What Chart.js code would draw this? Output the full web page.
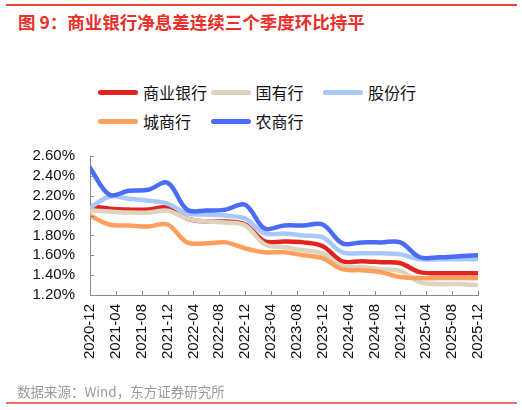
<!DOCTYPE html>
<html>
<head>
<meta charset="utf-8">
<script src="https://cdn.jsdelivr.net/npm/chart.js@4.4.1/dist/chart.umd.min.js"></script>
<style>
  html, body { margin: 0; padding: 0; background: #fff; }
  #wrap { position: relative; width: 522px; height: 410px; overflow: hidden;
          font-family: "Liberation Sans", "Noto Sans CJK SC", sans-serif; }
  #topline { position: absolute; left: 6px; top: 4px; width: 511px; height: 2px; background: #e9443c; }
  #botline { position: absolute; left: 6px; top: 402px; width: 511px; height: 2px; background: #f06a64; }
  #title { position: absolute; left: 18px; top: 9px; font-size: 17.5px; font-weight: bold; color: #e8302a;
           font-family: "Noto Sans CJK SC", "Liberation Sans", sans-serif; white-space: nowrap; }
  #source { position: absolute; left: 17px; top: 381px; font-size: 13.5px; color: #9a9a9a;
            font-family: "Noto Sans CJK SC", "Liberation Sans", sans-serif; white-space: nowrap; }
  #legend { position: absolute; left: 0; top: 0; width: 522px; height: 140px; }
  .lg { position: absolute; height: 22px; display: flex; align-items: center; white-space: nowrap;
        font-size: 16px; color: #111; font-family: "Noto Sans CJK SC", sans-serif; }
  .lg span.ln { display: inline-block; width: 40px; height: 5px; border-radius: 3px; margin-right: 5px; }
  canvas { position: absolute; left: 0; top: 0; }
</style>
</head>
<body>
<div id="wrap">
  <div id="topline"></div>
  <div id="title">图 9：商业银行净息差连续三个季度环比持平</div>
  <div id="legend"></div>
  <canvas id="nimChart" width="522" height="410"></canvas>
  <div id="source">数据来源：Wind，东方证券研究所</div>
  <div id="botline"></div>
</div>
<script>
// 季度末数据 (%)
const quarters = ['2020-12','2021-03','2021-06','2021-09','2021-12','2022-03','2022-06','2022-09','2022-12',
  '2023-03','2023-06','2023-09','2023-12','2024-03','2024-06','2024-09','2024-12',
  '2025-03','2025-06','2025-09','2025-12'];

const xTickLabels = ['2020-12','2021-04','2021-08','2021-12','2022-04','2022-08','2022-12','2023-04',
  '2023-08','2023-12','2024-04','2024-08','2024-12','2025-04','2025-08','2025-12'];

const yTicks = [1.2, 1.4, 1.6, 1.8, 2.0, 2.2, 2.4, 2.6];

const seriesNames = ['商业银行', '国有行', '股份行', '城商行', '农商行'];
const seriesColors = ['#e3231e', '#ddd4be', '#a8c8fa', '#ff9f5e', '#4b6cf5'];

const shangye  = [2.10,2.07,2.06,2.06,2.08,1.97,1.94,1.94,1.91,1.74,1.74,1.73,1.69,1.54,1.54,1.53,1.52,1.43,1.42,1.42,1.42];
const guoyou   = [2.05,2.04,2.03,2.03,2.05,1.97,1.94,1.93,1.90,1.71,1.68,1.65,1.62,1.49,1.48,1.46,1.44,1.33,1.31,1.31,1.30];
const gufen    = [2.08,2.19,2.17,2.15,2.12,2.02,2.01,2.00,1.97,1.82,1.82,1.80,1.78,1.63,1.62,1.62,1.61,1.56,1.56,1.56,1.56];
const chengshang = [2.00,1.91,1.90,1.89,1.91,1.73,1.72,1.73,1.67,1.63,1.63,1.60,1.57,1.46,1.45,1.43,1.38,1.37,1.37,1.37,1.37];
const nongshang  = [2.48,2.21,2.25,2.26,2.33,2.06,2.05,2.06,2.11,1.87,1.90,1.90,1.91,1.72,1.73,1.73,1.73,1.58,1.58,1.59,1.60];

const allSeries = [shangye, guoyou, gufen, chengshang, nongshang];

// 月份序号 (2020-12 = 0)
function monthIndex(s) {
  const [y, m] = s.split('-').map(Number);
  return (y - 2020) * 12 + m - 12;
}

const datasets = allSeries.map((vals, i) => ({
  label: seriesNames[i],
  data: vals.map((v, k) => ({ x: monthIndex(quarters[k]), y: v })),
  borderColor: seriesColors[i],
  backgroundColor: seriesColors[i],
  borderWidth: 4.5,
  pointRadius: 0,
  tension: 0.35,
  borderCapStyle: 'round',
  borderJoinStyle: 'round',
  fill: false,
  order: 5 - i   // 后面的系列画在上层
}));

/* ========== 图例 (HTML) ========== */
const legendBox = document.getElementById('legend');
seriesNames.forEach((name, i) => {
  const col = i % 3, row = Math.floor(i / 3);
  const item = document.createElement('div');
  item.className = 'lg';
  item.style.left = (98 + col * 112.5) + 'px';
  item.style.top = (81 + row * 29) + 'px';
  item.innerHTML = `<span class="ln" style="background:${seriesColors[i]}"></span>${name}`;
  legendBox.appendChild(item);
});

/* ========== 刻度线朝内 ========== */
const innerTicks = {
  id: 'innerTicks',
  afterDraw(chart) {
    const { ctx, scales: { x, y }, chartArea } = chart;
    ctx.save();
    ctx.strokeStyle = '#8a8a8a';
    ctx.lineWidth = 1;
    ctx.beginPath();
    yTicks.forEach(v => {
      const py = Math.round(y.getPixelForValue(v)) + 0.5;
      ctx.moveTo(chartArea.left, py);
      ctx.lineTo(chartArea.left + 4, py);
    });
    xTickLabels.forEach((lab, i) => {
      const px = Math.round(x.getPixelForValue(i * 4)) + 0.5;
      ctx.moveTo(px, chartArea.bottom);
      ctx.lineTo(px, chartArea.bottom - 4);
    });
    ctx.stroke();
    ctx.restore();
  }
};

const ctx = document.getElementById('nimChart').getContext('2d');
new Chart(ctx, {
  type: 'line',
  data: { datasets },
  options: {
    responsive: false,
    animation: false,
    layout: { padding: { top: 156, right: 44, bottom: 35, left: 0 } },
    plugins: { legend: { display: false }, tooltip: { enabled: false } },
    scales: {
      x: {
        type: 'linear',
        min: 0,
        max: 60,
        afterBuildTicks(scale) {
          scale.ticks = xTickLabels.map((l, i) => ({ value: i * 4 }));
        },
        afterFit(scale) { scale.height = 80; },
        grid: { display: false, drawTicks: false },
        border: { display: true, color: '#8a8a8a', width: 1 },
        ticks: {
          autoSkip: false,
          maxRotation: 90,
          minRotation: 90,
          padding: 9,
          color: '#111',
          font: { family: 'Liberation Sans', size: 15 },
          callback: (v) => xTickLabels[Math.round(v / 4)]
        }
      },
      y: {
        min: 1.2,
        max: 2.6,
        afterBuildTicks(scale) {
          scale.ticks = yTicks.map(v => ({ value: v }));
        },
        afterFit(scale) { scale.width = 90; },
        grid: { display: false, drawTicks: false },
        border: { display: true, color: '#8a8a8a', width: 1 },
        ticks: {
          autoSkip: false,
          padding: 15,
          color: '#111',
          font: { family: 'Liberation Sans', size: 15 },
          callback: (v) => v.toFixed(2) + '%'
        }
      }
    }
  },
  plugins: [innerTicks]
});
</script>
</body>
</html>
